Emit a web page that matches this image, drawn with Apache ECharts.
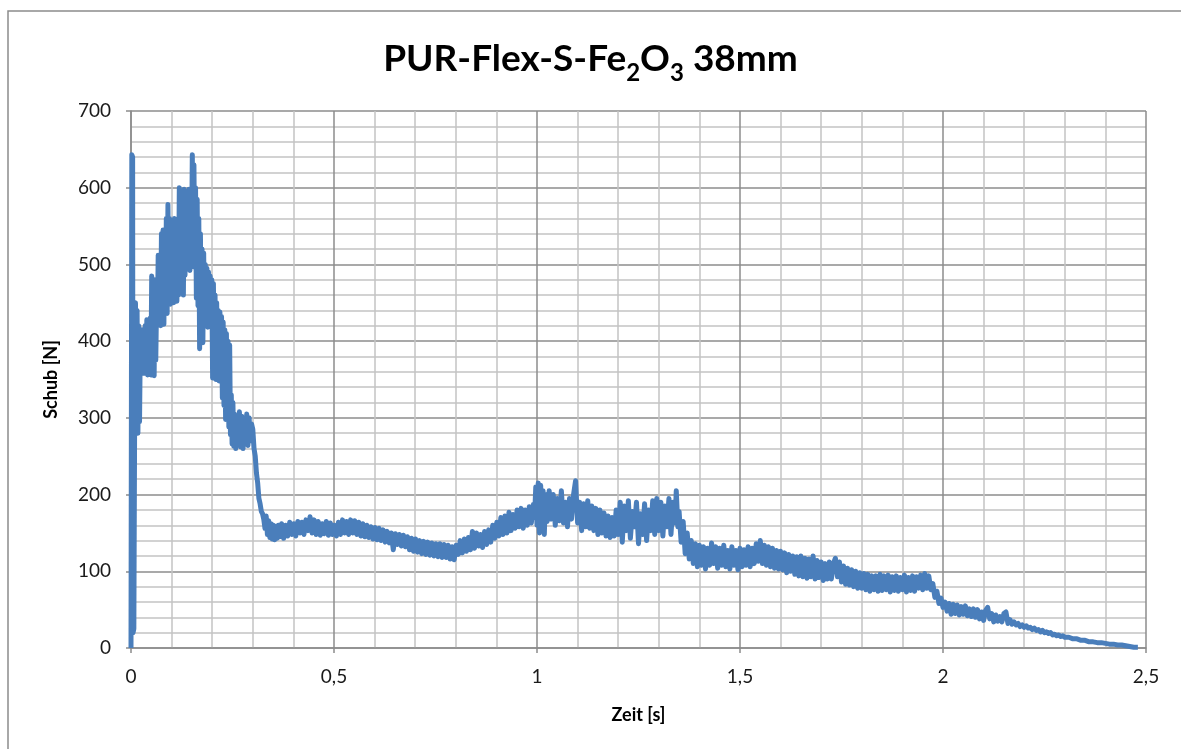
<!DOCTYPE html>
<html>
<head>
<meta charset="utf-8">
<script src="https://cdn.jsdelivr.net/npm/echarts@6/dist/echarts.min.js"></script>
<style>
html,body{margin:0;padding:0;background:#fff;}
#chart{width:1181px;height:749px;}
</style>
</head>
<body>
<div id="chart"></div>
<script>
// Achsen
var xTicks = [0, 0.5, 1, 1.5, 2, 2.5];
var yTicks = [0, 100, 200, 300, 400, 500, 600, 700];
var chartTitle = ['PUR-Flex-S-Fe', '2', 'O', '3', ' 38mm'];
var xName = 'Zeit [s]';
var yName = 'Schub [N]';

// Messpunkte [Zeit s, Schub N]
var anstieg = [
[0,0],[0.002,643],[0.004,640],[0.005,20],[0.007,25],[0.009,300],
[0.011,450],[0.013,285],[0.015,440],[0.017,280],[0.019,420],[0.021,295],[0.023,400],
[0.025,362],[0.027,415],[0.029,358],[0.031,410],[0.033,362],[0.035,420],
[0.037,358],[0.039,428],[0.041,356],[0.043,425],[0.045,360],[0.047,430],
[0.049,356],[0.051,485],[0.053,365],[0.055,470],[0.057,355],[0.059,480],[0.061,375],[0.063,450],
[0.065,422],[0.067,512],[0.069,425],[0.071,505],[0.073,420],[0.075,540],[0.077,435],[0.079,545],[0.081,422],[0.083,530],[0.085,445],[0.087,560],[0.089,436],[0.091,578],
[0.093,452],[0.095,560],[0.097,448],[0.099,555],[0.101,456],[0.103,540],[0.105,450],[0.107,560],[0.109,465],[0.111,545],[0.113,452],[0.115,555],
[0.117,460],[0.119,600],[0.121,466],[0.123,595],[0.125,476],[0.127,590],[0.129,460],[0.131,598],[0.133,486],
[0.135,595],[0.137,494],[0.139,590],[0.141,497],[0.143,598],[0.145,492],[0.147,580],
[0.149,515],[0.151,643],[0.153,497],[0.155,630],[0.157,505],[0.159,600],
[0.161,456],[0.163,585],[0.165,446],[0.167,560],[0.169,390],[0.171,540],[0.173,416],[0.175,520],[0.177,398],
[0.179,515],[0.181,420],[0.183,500],[0.185,422],[0.187,495],[0.189,418],[0.191,490],[0.193,426],[0.195,485],[0.197,420],[0.199,480],
[0.201,352],[0.203,475],[0.205,356],[0.207,460],[0.209,350],[0.211,450],[0.213,356],[0.215,440],[0.217,348],[0.219,438],[0.221,356],[0.223,432],
[0.225,326],[0.227,425],[0.229,316],[0.231,415],[0.233,298],[0.235,410],[0.237,302],[0.239,400],[0.241,288],[0.243,395],[0.245,278],[0.247,330],[0.249,266],[0.251,320],[0.253,263],
[0.255,305],[0.258,260],[0.261,302],[0.264,266],[0.267,308],[0.27,262],[0.273,302],[0.276,260],[0.279,298],[0.282,266],[0.285,305],[0.288,264],[0.291,300],[0.294,270],[0.297,292],
[0.3,285],[0.303,260],[0.306,250],[0.309,228],[0.312,215],[0.315,195],[0.318,188],[0.321,178],[0.324,175],
[0.327,168],[0.330,156],[0.333,172],[0.336,148],[0.339,166],[0.342,144],[0.345,162],[0.348,142],[0.351,160],[0.354,141],[0.357,158],[0.36,143],[0.363,160]
];

var plateau = [
[0.366,145],[0.371,162],[0.376,143],[0.381,160],[0.386,146],[0.391,164],[0.396,148],[0.401,162],[0.406,146],[0.411,165],[0.416,150],[0.421,164],[0.426,148],[0.431,167],[0.436,153],[0.441,171],[0.446,150],[0.451,167],[0.456,148],[0.461,165],[0.466,147],[0.471,162],[0.476,149],[0.481,165],[0.486,147],[0.491,163],[0.496,148],[0.501,160],[0.506,146],[0.511,164],[0.516,148],[0.521,167],[0.526,150],[0.531,165],[0.536,148],[0.541,167],[0.546,150],[0.551,166],[0.556,148],[0.561,164],
[0.566,146],[0.571,162],[0.576,145],[0.581,160],[0.586,144],[0.591,158],[0.596,142],[0.601,157],[0.606,141],[0.611,156],[0.616,140],[0.621,154],[0.626,138],[0.631,152],[0.636,137],[0.641,150],[0.646,128],[0.651,149],[0.656,135],[0.661,148],[0.666,133],[0.671,147],[0.676,132],
[0.681,145],[0.686,128],[0.691,143],[0.696,126],[0.701,142],[0.706,125],[0.711,140],[0.716,123],[0.721,139],[0.726,122],[0.731,138],[0.736,121],[0.741,137],[0.746,120],[0.751,136],[0.756,119],[0.761,136],[0.766,118],[0.771,135],[0.776,118],[0.781,134],[0.786,116],[0.791,132],[0.796,115],
[0.801,134],[0.806,122],[0.811,140],[0.816,124],[0.821,142],[0.826,126],[0.831,144],[0.836,128],[0.841,152],[0.846,130],[0.851,150],[0.856,133],[0.861,148],[0.866,131],[0.871,152],[0.876,135],[0.881,154],
[0.886,138],[0.891,160],[0.896,143],[0.901,164],[0.906,146],[0.911,170],[0.916,148],[0.921,172],[0.926,150],[0.931,177],[0.936,153],[0.941,174],[0.946,156],[0.951,180],[0.956,158],[0.961,182],[0.966,156],[0.971,180],[0.976,160],[0.981,184],[0.986,163],[0.991,187]
];

var mitte = [
[0.994,170],[0.997,210],[1.0,160],[1.003,215],[1.006,150],[1.009,212],[1.012,175],[1.015,205],[1.018,148],[1.021,200],
[1.025,165],[1.03,205],[1.035,168],[1.04,200],[1.045,160],[1.05,195],[1.055,166],[1.06,205],[1.065,163],[1.07,190],[1.075,158],[1.08,195],[1.085,168],
[1.09,200],[1.095,218],[1.1,163],
[1.105,190],[1.11,153],[1.115,188],[1.12,158],[1.125,192],[1.13,156],[1.135,185],[1.14,153],[1.145,182],[1.15,148],[1.155,180],[1.16,150],[1.165,176],[1.17,146],[1.175,172],[1.18,144],[1.185,170],[1.19,146],
[1.195,180],[1.2,148],[1.205,190],[1.21,138],[1.215,185],[1.22,153],[1.225,192],[1.23,143],[1.235,178],[1.24,158],[1.245,190],[1.25,136],[1.255,175],[1.26,148],[1.265,188],[1.27,140],[1.275,180],[1.28,153],[1.285,192],
[1.29,148],[1.295,195],[1.3,153],[1.305,190],[1.31,146],[1.315,185],[1.32,158],[1.325,195],[1.33,148],[1.335,190],[1.34,163],[1.343,205],[1.347,158],
[1.35,178],[1.355,138],[1.36,165],[1.365,123],[1.37,150],[1.375,116],[1.38,140],
[1.385,110],[1.39,136],[1.395,106],[1.4,134],[1.405,108],[1.41,132],[1.415,103],[1.42,130],[1.425,108],[1.43,137],[1.435,110],[1.44,132],[1.445,104],[1.45,130],[1.455,108],[1.46,134],[1.465,106],[1.47,127],[1.475,103],[1.48,132],[1.485,108],[1.49,127],[1.495,102]
];

var abfall = [
[1.5,130],[1.505,106],[1.51,128],[1.515,108],[1.52,132],[1.525,106],[1.53,130],[1.535,110],[1.54,136],[1.545,113],[1.55,140],[1.555,110],[1.56,134],[1.565,108],[1.57,132],[1.575,106],[1.58,130],[1.585,104],[1.59,127],[1.595,103],[1.6,126],[1.605,102],[1.61,124],[1.615,98],[1.62,122],[1.625,100],[1.63,120],[1.635,96],[1.64,119],[1.645,94],
[1.65,120],[1.655,93],[1.66,117],[1.665,91],[1.67,116],[1.675,93],[1.68,120],[1.685,90],[1.69,114],[1.695,92],[1.7,112],[1.705,88],[1.71,110],[1.715,90],[1.72,112],[1.725,90],
[1.73,110],[1.735,117],[1.74,93],[1.745,112],[1.75,86],[1.755,107],[1.76,83],[1.765,104],[1.77,82],[1.775,102],[1.78,80],[1.785,100],[1.79,78],[1.795,98],[1.8,78],[1.805,97],
[1.81,76],[1.815,96],[1.82,74],[1.825,94],[1.83,76],[1.835,94],[1.84,74],[1.845,96],[1.85,75],[1.855,94],[1.86,76],[1.865,95],[1.87,73],[1.875,93],[1.88,75],[1.885,94],[1.89,74],[1.895,92],[1.9,76],[1.905,95],[1.91,73],[1.915,92],[1.92,75],[1.925,94],[1.93,74],[1.935,93],[1.94,78],[1.945,95],[1.95,76],[1.955,97],[1.96,78],[1.965,94],
[1.97,76],[1.975,84],[1.98,66],[1.985,74],[1.99,58],[1.995,65],[2.0,53],[2.005,60],
[2.01,48],[2.015,58],[2.02,44],[2.025,57],[2.03,45],[2.035,56],[2.04,43],[2.045,54],[2.05,44],[2.055,55],[2.06,42],[2.065,51],[2.07,41],[2.075,51],[2.08,40],[2.085,50],
[2.09,38],[2.095,47],[2.1,36],[2.105,49],[2.11,53],[2.115,38],[2.12,45],[2.125,34],[2.13,43],[2.135,35],[2.14,41],[2.145,34],[2.15,45],[2.155,47],[2.16,32],[2.165,37],[2.17,31],
[2.175,34],[2.18,30],[2.185,32],[2.19,28],[2.195,30],[2.2,27],[2.205,29],[2.21,26],[2.215,27],[2.22,24],[2.225,26],[2.23,23],[2.235,24],[2.24,21],[2.245,23],[2.25,20],[2.255,21],[2.26,19],[2.265,20],[2.27,17],[2.275,18],[2.28,16],[2.285,17],[2.29,15],[2.295,16],[2.3,14],
[2.31,14],[2.32,12],[2.33,12],[2.34,10],[2.35,10],[2.36,8],[2.37,8],[2.38,7],[2.39,7],[2.4,6],[2.41,5],[2.42,5],[2.43,4],[2.44,4],[2.45,3],[2.46,2],[2.47,1],[2.48,1]
];

var messung = anstieg.concat(plateau, mitte, abfall);

var chart = echarts.init(document.getElementById('chart'), null, {renderer: 'canvas'});
var komma = function (v) { return String(v).replace('.', ','); };
var titleFont = 'Lato, "Open Sans", sans-serif';
var labelFont = 'Lato, "Open Sans", sans-serif';

chart.setOption({
  animation: false,
  backgroundColor: '#ffffff',
  title: {
    text: '{m|' + chartTitle[0] + '}{s|' + chartTitle[1] + '}{m|' + chartTitle[2] + '}{s|' + chartTitle[3] + '}{m|' + chartTitle[4] + '}',
    left: 'center',
    top: 36,
    textStyle: {
      rich: {
        m: {fontFamily: titleFont, fontWeight: 'bold', fontSize: 37, color: '#000', lineHeight: 50, verticalAlign: 'top'},
        s: {fontFamily: titleFont, fontWeight: 'bold', fontSize: 24, color: '#000', lineHeight: 50, verticalAlign: 'top', padding: [20, 0, 0, 0]}
      }
    }
  },
  graphic: [{
    type: 'rect',
    shape: {x: 8, y: 11, width: 1200, height: 800},
    style: {fill: 'none', stroke: '#8c8c8c', lineWidth: 1.5},
    silent: true,
    z: 0
  }],
  grid: {left: 131, right: 35, top: 111, bottom: 101, containLabel: false},
  xAxis: {
    type: 'value',
    min: xTicks[0],
    max: xTicks[xTicks.length - 1],
    interval: 0.5,
    name: xName,
    nameLocation: 'middle',
    nameGap: 58,
    nameTextStyle: {fontFamily: labelFont, fontWeight: 'bold', fontSize: 18, color: '#000'},
    axisLine: {show: true, lineStyle: {color: '#8c8c8c', width: 1.5}},
    axisTick: {show: true, length: 5, inside: false, lineStyle: {color: '#8c8c8c', width: 1.5}},
    axisLabel: {formatter: komma, fontFamily: labelFont, fontSize: 19, color: '#1a1a1a', margin: 19},
    splitLine: {show: true, lineStyle: {color: '#8c8c8c', width: 1.5}},
    minorTick: {show: false, splitNumber: 5},
    minorSplitLine: {show: true, lineStyle: {color: '#c4c4c4', width: 1.5}}
  },
  yAxis: {
    type: 'value',
    min: yTicks[0],
    max: yTicks[yTicks.length - 1],
    interval: 100,
    name: yName,
    nameLocation: 'middle',
    nameGap: 71,
    nameRotate: 90,
    nameTextStyle: {fontFamily: labelFont, fontWeight: 'bold', fontSize: 18, color: '#000'},
    axisLine: {show: true, lineStyle: {color: '#8c8c8c', width: 1.5}},
    axisTick: {show: true, length: 5, inside: false, lineStyle: {color: '#8c8c8c', width: 1.5}},
    axisLabel: {fontFamily: labelFont, fontSize: 19, color: '#1a1a1a', margin: 20},
    splitLine: {show: true, lineStyle: {color: '#8c8c8c', width: 1.5}},
    minorTick: {show: false, splitNumber: 5},
    minorSplitLine: {show: true, lineStyle: {color: '#c4c4c4', width: 1.5}}
  },
  series: [{
    type: 'line',
    data: messung,
    showSymbol: false,
    symbol: 'none',
    sampling: null,
    lineStyle: {color: '#4a7ebb', width: 5, join: 'round'},
    z: 3
  }]
});
</script>
</body>
</html>
